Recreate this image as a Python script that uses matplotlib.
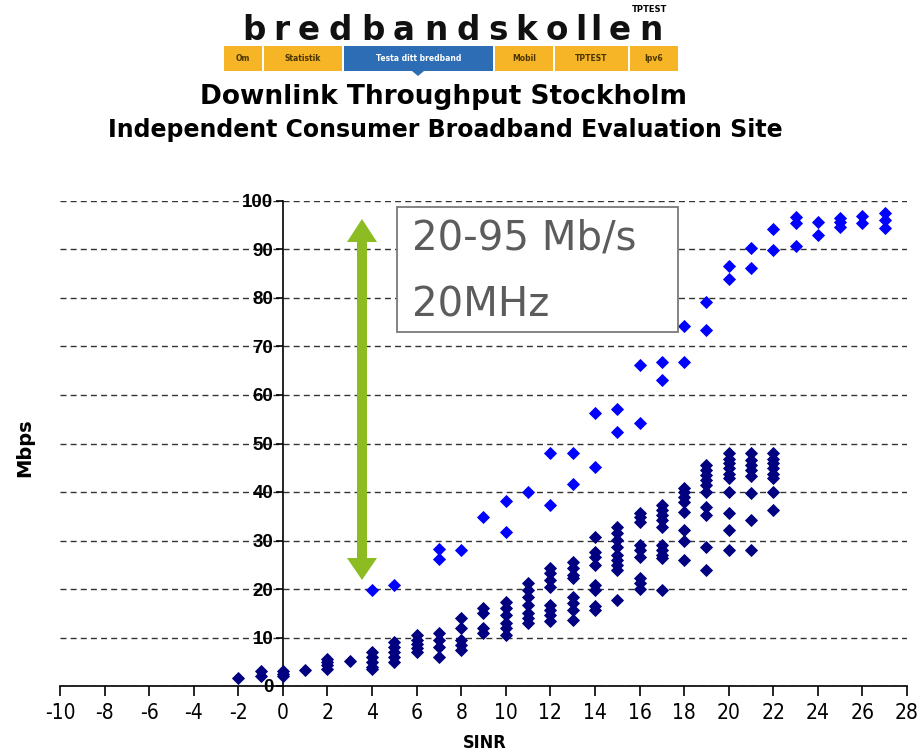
import matplotlib
matplotlib.use('Agg')
import matplotlib.pyplot as plt
from matplotlib.patches import Rectangle, Polygon
from matplotlib.font_manager import FontProperties

plt.rcParams['font.family'] = ['DejaVu Sans']
plt.rcParams['axes.unicode_minus'] = False

# upper group (light blue)
blue_sinr = [4, 5, 7, 7, 8, 9, 10, 10, 11, 12, 12, 13, 13, 14, 14, 15, 15,
             16, 16, 17, 17, 18, 18, 19, 19, 20, 20, 21, 21, 22, 22,
             23, 23, 23, 24, 24, 25, 25, 25, 26, 26, 27, 27, 27]
blue_mbps = [19.8, 20.8, 28.2, 26.1, 28.0, 34.8, 38.2, 31.8, 40.0, 48.1, 37.4, 48.1, 41.6, 56.2, 45.1, 57.1, 52.4,
             66.2, 54.2, 66.8, 63.0, 74.2, 66.8, 79.2, 73.3, 86.7, 83.9, 90.4, 86.1, 94.2, 89.9,
             96.6, 95.4, 90.8, 95.6, 93.0, 96.4, 95.7, 94.7, 96.9, 95.4, 97.6, 96.1, 94.4]

# lower group (dark blue)
dark_sinr = ([-2] + [-1] * 2 + [0] * 3 + [1] + [2] * 4 + [3] + [4] * 5 + [5] * 5 + [6] * 5
             + [7] * 4 + [8] * 5 + [9] * 4 + [10] * 6 + [11] * 7 + [12] * 8 + [13] * 8 + [14] * 8
             + [15] * 9 + [16] * 9 + [17] * 10 + [18] * 8 + [19] * 10 + [20] * 10 + [21] * 8 + [22] * 8)
dark_mbps = [1.6,
             3.0, 2.0,
             3.0, 2.5, 2.0,
             3.4,
             5.5, 5.0, 4.3, 3.6,
             5.1,
             7.0, 6.0, 5.0, 4.0, 3.5,
             9.0, 8.0, 7.0, 6.0, 5.0,
             10.5, 9.5, 8.7, 7.8, 7.0,
             11.0, 9.5, 8.0, 6.0,
             14.0, 12.0, 9.5, 8.5, 7.5,
             16.0, 15.0, 12.0, 11.0,
             17.4, 16.0, 14.6, 13.0, 12.0, 10.5,
             21.2, 19.8, 18.4, 16.7, 15.0, 14.0, 13.0,
             24.3, 23.2, 21.9, 20.5, 16.7, 15.7, 14.6, 13.3,
             25.6, 24.3, 22.9, 22.2, 18.4, 17.1, 15.7, 13.6,
             30.7, 27.7, 26.7, 24.9, 20.8, 19.8, 16.4, 15.7,
             32.8, 31.5, 30.1, 28.7, 27.0, 26.0, 24.9, 23.9, 17.7,
             35.6, 34.9, 33.9, 29.1, 28.0, 26.7, 22.2, 21.2, 20.1,
             37.3, 36.3, 35.3, 34.2, 32.8, 29.1, 28.0, 27.0, 26.3, 19.8,
             40.8, 40.1, 39.0, 38.0, 35.9, 32.2, 29.8, 26.0,
             45.6, 44.5, 43.5, 42.5, 41.4, 40.1, 37.0, 35.3, 28.7, 23.9,
             48.0, 46.9, 45.9, 44.9, 43.8, 42.8, 40.1, 35.6, 32.2, 28.0,
             48.0, 46.6, 45.6, 44.5, 43.2, 39.8, 34.3, 28.0,
             48.0, 46.9, 45.9, 44.9, 43.8, 42.8, 40.1, 36.3]

x_ticks = list(range(-10, 29, 2))
y_ticks = list(range(0, 101, 10))
nav_items = ['Om', 'Statistik', 'Testa ditt bredband', 'Mobil', 'TPTEST', 'Ipv6']
logo = 'bredbandskollen'

W, H = 920, 753
def fx(px):
    return px / W
def fy(py):
    return 1 - py / H

# narrow font for the x axis if there is one
narrow = FontProperties(family=['Liberation Sans Narrow', 'DejaVu Sans'], stretch='condensed', size=15)

fig = plt.figure(figsize=(9.2, 7.53), dpi=100)
ax = fig.add_axes([fx(60), fy(686), fx(907) - fx(60), fy(201) - fy(686)])

ax.plot(dark_sinr, dark_mbps, 'D', color='#000080', ms=6, mew=0.6, clip_on=False, zorder=3)
ax.plot(blue_sinr, blue_mbps, 'D', color='#0000FF', ms=6, mew=0.6, clip_on=False, zorder=3)

ax.set_xlim(-10, 28)
ax.set_ylim(0, 100)
ax.set_xticks(x_ticks)
ax.set_yticks(y_ticks)
ax.set_yticklabels([str(v) for v in y_ticks])
ax.spines['left'].set_position(('data', 0))
ax.spines['top'].set_visible(False)
ax.spines['right'].set_visible(False)
for s in ['left', 'bottom']:
    ax.spines[s].set_linewidth(1.2)
ax.grid(axis='y', linestyle=(0, (4.3, 3)), color='#333333', lw=1)
ax.set_axisbelow(True)
ax.tick_params(axis='x', direction='out', length=7, width=1.2, pad=5)
ax.tick_params(axis='y', direction='out', length=5, width=1.2, pad=2, labelsize=13.5)
for lbl in ax.get_xticklabels():
    lbl.set_fontproperties(narrow)
for lbl in ax.get_yticklabels():
    lbl.set_family(['Liberation Sans', 'DejaVu Sans'])
    lbl.set_fontweight('bold')

# annotation box
box = Rectangle((fx(397), fy(332)), fx(678) - fx(397), fy(207) - fy(332),
                transform=fig.transFigure, fc='white', ec='#7a7a7a', lw=1.3, zorder=5)
fig.add_artist(box)
fig.text(fx(412), fy(250), '20-95 Mb/s', fontsize=29, color='#5c5c5c', va='baseline', zorder=6)
fig.text(fx(412), fy(316), '20MHz', fontsize=29, color='#5c5c5c', va='baseline', zorder=6)

# green double arrow
arrow_px = [(362, 219), (377, 242), (367, 242), (367, 558), (377, 558), (362, 580),
            (347, 558), (357, 558), (357, 242), (347, 242)]
arrow = Polygon([(fx(a), fy(b)) for a, b in arrow_px], closed=True,
                transform=fig.transFigure, fc='#8DBB22', ec='none', zorder=5)
fig.add_artist(arrow)

# header logo, letters spread out to the logo's width
logo_w = {'b': .716, 'r': .493, 'e': .678, 'd': .716, 'a': .675, 'n': .712,
          's': .595, 'k': .665, 'o': .687, 'l': .343}
total = sum(logo_w[c] for c in logo)
xpos = 238
for c in logo:
    step = logo_w[c] / total * 429
    fig.text(fx(xpos + step / 2), fy(40), c, fontsize=23.5, weight='bold', ha='center',
             va='baseline', color='#111111')
    xpos += step
fig.text(fx(667), fy(10), 'TPTEST', fontsize=6, weight='bold', ha='right', va='center')

nav_edges = [224, 264, 344, 495, 555, 630, 680]
for i, item in enumerate(nav_items):
    x0, x1 = nav_edges[i], nav_edges[i + 1] - 2
    active = item == 'Testa ditt bredband'
    fig.add_artist(Rectangle((fx(x0), fy(71)), fx(x1) - fx(x0), fy(46) - fy(71),
                             transform=fig.transFigure,
                             fc='#2D6DB5' if active else '#F5B526', ec='none'))
    fig.text(fx((x0 + x1) / 2), fy(58.5), item, fontsize=5.5, weight='bold',
             color='white' if active else '#4a3500', ha='center', va='center')
fig.add_artist(Polygon([(fx(412), fy(71)), (fx(424), fy(71)), (fx(418), fy(76))],
                       transform=fig.transFigure, fc='#2D6DB5', ec='none'))

fig.text(fx(444), fy(104), 'Downlink Throughput Stockholm', fontsize=19, weight='bold',
         ha='center', va='baseline')
fig.text(fx(445), fy(137), 'Independent Consumer Broadband Evaluation Site', fontsize=17,
         weight='bold', ha='center', va='baseline')

fig.text(fx(25), fy(448), 'Mbps', rotation=90, fontsize=14, weight='bold', ha='center', va='center')
fig.text(fx(485), fy(743), 'SINR', fontproperties=FontProperties(
    family=['Liberation Sans Narrow', 'DejaVu Sans'], stretch='condensed', weight='bold', size=13),
    ha='center', va='center')

fig.savefig('out.png', dpi=100)
